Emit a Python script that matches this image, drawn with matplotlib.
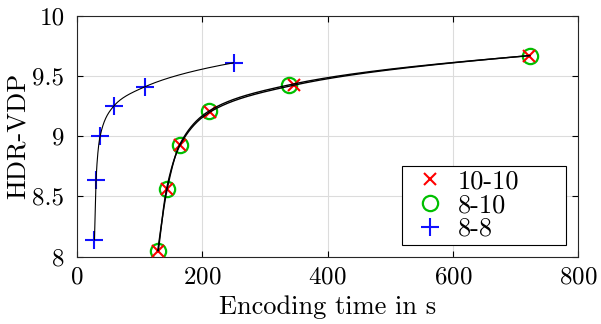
import numpy as np
import matplotlib
matplotlib.use('Agg')
import matplotlib.pyplot as plt

plt.rcParams['font.family'] = ['cmr10', 'DejaVu Serif']
plt.rcParams['axes.unicode_minus'] = False
plt.rcParams['axes.formatter.use_mathtext'] = True

# encoding time (s) vs HDR-VDP for three bit-depth configurations
time_10_10 = [130, 143, 165, 212, 347, 722]
vdp_10_10 = [8.05, 8.56, 8.93, 9.20, 9.425, 9.67]

time_8_10 = [129, 144, 164, 211, 338, 723]
vdp_8_10 = [8.05, 8.56, 8.93, 9.21, 9.426, 9.67]

time_8_8 = [28, 30.5, 37, 58.7, 108, 250]
vdp_8_8 = [8.14, 8.64, 9.00, 9.25, 9.41, 9.61]


def smooth_curve(x, y, n=400):
    # monotone cubic (Fritsch-Carlson) through the points, in log-x space
    u = np.log(np.asarray(x, float))
    y = np.asarray(y, float)
    h = np.diff(u)
    d = np.diff(y) / h
    m = np.zeros_like(y)
    m[0], m[-1] = d[0], d[-1]
    for k in range(1, len(y) - 1):
        if d[k - 1] * d[k] > 0:
            w1 = 2 * h[k] + h[k - 1]
            w2 = h[k] + 2 * h[k - 1]
            m[k] = (w1 + w2) / (w1 / d[k - 1] + w2 / d[k])
    us, ys = [], []
    for k in range(len(h)):
        t = np.linspace(0, 1, n // len(h))
        h00 = 2 * t**3 - 3 * t**2 + 1
        h10 = t**3 - 2 * t**2 + t
        h01 = -2 * t**3 + 3 * t**2
        h11 = t**3 - t**2
        us.append(u[k] + t * h[k])
        ys.append(h00 * y[k] + h10 * h[k] * m[k] + h01 * y[k + 1] + h11 * h[k] * m[k + 1])
    return np.exp(np.concatenate(us)), np.concatenate(ys)


fig = plt.figure(figsize=(6.01, 3.24), dpi=100)
ax = fig.add_axes([0.128, 0.208, 0.834, 0.743])

ax.plot(time_8_10, vdp_8_10, 'o', mfc='none', mec='#00c000', ms=11, mew=1.6, ls='none', label='8-10', zorder=2)
ax.plot(time_10_10, vdp_10_10, 'x', color='#ff0000', ms=8, mew=1.5, ls='none', label='10-10', zorder=3)
ax.plot(time_8_8, vdp_8_8, '+', color='#1010ff', ms=13, mew=1.5, ls='none', label='8-8', zorder=3)

for xs_, ys_, lw in [(time_10_10, vdp_10_10, 1.0), (time_8_10, vdp_8_10, 1.0), (time_8_8, vdp_8_8, 0.8)]:
    cx, cy = smooth_curve(xs_, ys_)
    ax.plot(cx, cy, color='black', lw=lw, zorder=4)

ax.set_xlim(0, 800)
ax.set_ylim(8, 10)
ax.set_xticks([0, 200, 400, 600, 800])
ax.set_yticks([8, 8.5, 9, 9.5, 10])
ax.set_yticklabels(['8', '8.5', '9', '9.5', '10'])
ax.tick_params(direction='in', top=True, right=True, labelsize=18, length=4)
ax.tick_params(axis='x', pad=7)
ax.tick_params(axis='y', pad=9)
ax.grid(True, color='#dcdcdc', lw=0.8)
ax.set_axisbelow(True)
for s in ax.spines.values():
    s.set_linewidth(0.8)
    s.set_color('#262626')

ax.set_xlabel('Encoding time in s', fontsize=19, labelpad=5)
ax.set_ylabel('HDR-VDP', fontsize=19, labelpad=2)

handles, labels = ax.get_legend_handles_labels()
order = [labels.index(l) for l in ['10-10', '8-10', '8-8']]
leg = ax.legend([handles[i] for i in order], [labels[i] for i in order],
                loc='lower left', mode='expand', borderaxespad=0,
                bbox_to_anchor=(0.649, 0.049, 0.327, 0.3),
                fontsize=19, frameon=True, fancybox=False,
                edgecolor='black', framealpha=1, borderpad=0.15, labelspacing=0.0,
                handletextpad=0.15, handlelength=1.8)
leg.get_frame().set_linewidth(0.8)
leg.set_zorder(5)

fig.savefig('out.png', dpi=100)
